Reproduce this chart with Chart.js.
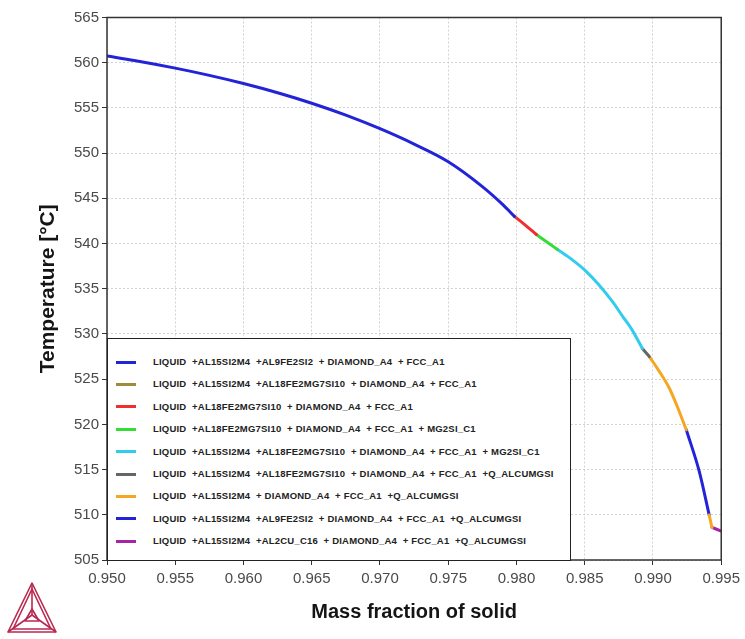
<!DOCTYPE html>
<html>
<head>
<meta charset="utf-8">
<script src="https://cdn.jsdelivr.net/npm/chart.js@4.4.1/dist/chart.umd.min.js"></script>
<style>
  html, body { margin: 0; padding: 0; background: #fff; }
  #wrap { position: relative; width: 745px; height: 639px; }
  #legendBox {
    position: absolute; background: #fff; border: 1.5px solid #222; box-sizing: border-box;
    font: bold 9.5px 'Liberation Sans', Arial, sans-serif; color: #222;
  }
  #legendBox .row { position: absolute; left: 0; height: 12px; white-space: pre; line-height: 12px; }
  #legendBox .swatch { position: absolute; left: 8px; top: 4.5px; width: 20px; height: 3px; }
  #legendBox .txt { position: absolute; left: 45px; top: 0; letter-spacing: 0.2px; }
  #logo { position: absolute; left: 0; top: 578px; }
</style>
</head>
<body>
<div id="wrap">
  <canvas id="myChart" width="745" height="639"></canvas>
  <div id="legendBox"></div>
  <svg id="logo" width="64" height="61" viewBox="0 0 64 61">
    <g fill="none" stroke="#b8294f" stroke-width="1.6" stroke-linejoin="round">
      <polygon points="32,5 8,54 56,54"/>
      <polygon points="32,11 13,51 51,51"/>
      <line x1="32" y1="5" x2="32" y2="37"/>
      <line x1="8" y1="54" x2="32" y2="37"/>
      <line x1="56" y1="54" x2="32" y2="37"/>
      <polygon points="32,31 25,43 39,43"/>
    </g>
  </svg>
</div>
<script>
// phase region labels (legend)
const phaseLabels = [
  'LIQUID  +AL15SI2M4  +AL9FE2SI2  + DIAMOND_A4  + FCC_A1',
  'LIQUID  +AL15SI2M4  +AL18FE2MG7SI10  + DIAMOND_A4  + FCC_A1',
  'LIQUID  +AL18FE2MG7SI10  + DIAMOND_A4  + FCC_A1',
  'LIQUID  +AL18FE2MG7SI10  + DIAMOND_A4  + FCC_A1  + MG2SI_C1',
  'LIQUID  +AL15SI2M4  +AL18FE2MG7SI10  + DIAMOND_A4  + FCC_A1  + MG2SI_C1',
  'LIQUID  +AL15SI2M4  +AL18FE2MG7SI10  + DIAMOND_A4  + FCC_A1  +Q_ALCUMGSI',
  'LIQUID  +AL15SI2M4  + DIAMOND_A4  + FCC_A1  +Q_ALCUMGSI',
  'LIQUID  +AL15SI2M4  +AL9FE2SI2  + DIAMOND_A4  + FCC_A1  +Q_ALCUMGSI',
  'LIQUID  +AL15SI2M4  +AL2CU_C16  + DIAMOND_A4  + FCC_A1  +Q_ALCUMGSI'
]
const phaseColors = ['#2323d8', '#9c8c3c', '#ee3030', '#33dd33', '#33ccee', '#666666', '#f5a623', '#2323d8', '#a624a6']

// mass fraction of solid (x) and temperature in °C (y) for each phase region
const fs1 = [0.950, 0.952, 0.955, 0.9575, 0.960, 0.9625, 0.965, 0.9675, 0.970, 0.9725, 0.975, 0.9775, 0.979, 0.97985]
const t1  = [560.74, 560.25, 559.4, 558.6, 557.7, 556.68, 555.52, 554.2, 552.7, 551.0, 549.05, 546.3, 544.3, 543.0]
const fs2 = [0.97985, 0.9799]
const t2  = [543.0, 542.95]
const fs3 = [0.97985, 0.9806, 0.98146]
const t3  = [543.0, 542.1, 541.0]
const fs4 = [0.98146, 0.9822, 0.9830]
const t4  = [541.0, 540.2, 539.35]
const fs5 = [0.9830, 0.9840, 0.98512, 0.9860, 0.98702, 0.9878, 0.98849, 0.98922]
const t5  = [539.35, 538.3, 536.9, 535.5, 533.6, 531.9, 530.4, 528.4]
const fs6 = [0.98922, 0.98973]
const t6  = [528.4, 527.5]
const fs7 = [0.98973, 0.9904, 0.9912, 0.9918, 0.99244, null, 0.99412, 0.99432]
const t7  = [527.5, 526.0, 524.0, 521.9, 519.4, null, 509.97, 508.6]
const fs8 = [0.99244, 0.99339, 0.99412]
const t8  = [519.4, 514.8, 509.97]
const fs9 = [0.99432, 0.995]
const t9  = [508.6, 508.2]

const xTicks = [0.950, 0.955, 0.960, 0.965, 0.970, 0.975, 0.980, 0.985, 0.990, 0.995]
const yTicks = [505, 510, 515, 520, 525, 530, 535, 540, 545, 550, 555, 560, 565]

const seriesX = [fs1, fs2, fs3, fs4, fs5, fs6, fs7, fs8, fs9]
const seriesY = [t1, t2, t3, t4, t5, t6, t7, t8, t9]

function toPoints(xs, ys) {
  return xs.map((x, i) => ({ x: x, y: ys[i] }))
}

const datasets = phaseLabels.map((label, i) => ({
  label: label,
  data: toPoints(seriesX[i], seriesY[i]),
  borderColor: phaseColors[i],
  backgroundColor: phaseColors[i],
  borderWidth: 3,
  pointRadius: 0,
  showLine: true,
  spanGaps: false,
  cubicInterpolationMode: 'monotone',
  borderCapStyle: 'round'
}))

// frame round the plot area (top and right too)
const framePlugin = {
  id: 'frame',
  afterDatasetsDraw(chart) {
    const { ctx, chartArea: a } = chart
    ctx.save()
    ctx.strokeStyle = '#333'
    ctx.lineWidth = 1.5
    ctx.strokeRect(a.left, a.top, a.right - a.left, a.bottom - a.top)
    ctx.restore()
  }
}

const tickFont = { family: "'Liberation Sans', Arial, sans-serif", size: 15 }
const fontFamily = "'Liberation Sans', Arial, sans-serif"

const chart = new Chart(document.getElementById('myChart'), {
  type: 'scatter',
  data: { datasets: datasets },
  options: {
    responsive: false,
    animation: false,
    layout: { padding: { left: 0, right: 23, top: 17.5, bottom: 0 } },
    plugins: { legend: { display: false }, tooltip: { enabled: false } },
    scales: {
      x: {
        type: 'linear', min: 0.950, max: 0.995,
        afterBuildTicks: s => { s.ticks = xTicks.map(v => ({ value: v })) },
        afterFit: s => { s.height = 79 },
        ticks: { font: tickFont, color: '#4a4a4a', padding: 5, maxRotation: 0, callback: v => v.toFixed(3) },
        grid: { color: '#d2d2d2', tickLength: 5, tickColor: '#333', tickBorderDash: [] },
        border: { display: false, dash: [2, 2] },
        title: { display: true, text: 'Mass fraction of solid', font: { family: fontFamily, size: 20, weight: 'bold' }, color: '#151515', padding: { top: 0, bottom: 15 } }
      },
      y: {
        type: 'linear', min: 505, max: 565,
        afterBuildTicks: s => { s.ticks = yTicks.map(v => ({ value: v })) },
        afterFit: s => { s.width = 107 },
        ticks: { font: tickFont, color: '#4a4a4a', padding: 3, callback: v => String(v) },
        grid: { color: '#d2d2d2', tickLength: 5, tickColor: '#333', tickBorderDash: [] },
        border: { display: false, dash: [2, 2] },
        title: { display: true, text: 'Temperature [°C]', font: { family: fontFamily, size: 21, weight: 'bold' }, color: '#151515', padding: { top: 36, bottom: 0 } }
      }
    }
  },
  plugins: [framePlugin]
})

// legend box sits inside the plot, bottom-left
function buildLegend() {
  const a = chart.chartArea
  const box = document.getElementById('legendBox')
  const top = 338
  box.style.left = a.left + 'px'
  box.style.top = top + 'px'
  box.style.width = (571 - a.left) + 'px'
  box.style.height = (a.bottom - top + 1) + 'px'
  chart.data.datasets.forEach((ds, i) => {
    const row = document.createElement('div')
    row.className = 'row'
    row.style.top = (17 + i * 22.4) + 'px'
    row.innerHTML = `<div class="swatch" style="background:${ds.borderColor}"></div><span class="txt"></span>`
    row.querySelector('.txt').textContent = ds.label
    box.appendChild(row)
  })
}
buildLegend()
</script>
</body>
</html>
